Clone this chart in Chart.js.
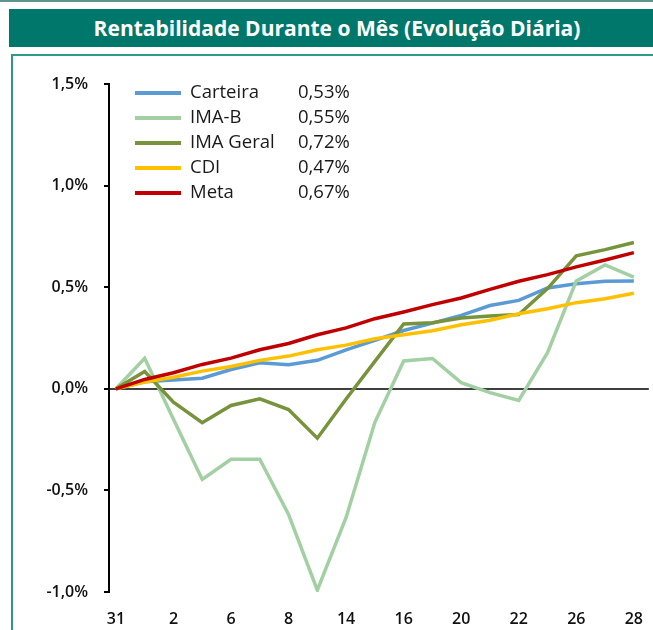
<!DOCTYPE html>
<html>
    <head>
        <meta charset="utf-8">
        <script src="https://cdn.jsdelivr.net/npm/chart.js@4.4.1/dist/chart.umd.min.js"></script>
        <style>
            body { margin: 0; background: #fff; font-family: 'Open Sans', sans-serif; }
            .topline { position: absolute; left: 0; top: 0; width: 653px; height: 2px; background: #5f938c; }
            .title {
                position: absolute; left: 9px; top: 9px; width: 632px; height: 38px; padding-left: 12px;
                background: #00776b; color: #fff; font-weight: 700; font-size: 21px;
                line-height: 38px; text-align: center;
            }
            .box {
                position: absolute; left: 11px; top: 54px; width: 642px; height: 576px;
                border-left: 2px solid #2c9a8b; border-top: 2px solid #2c9a8b;
            }
            .chart-container { position: absolute; left: 0; top: 0; width: 640px; height: 574px; }
        </style>
    </head>
    <body>
        <div class="topline"></div>
        <div class="title">Rentabilidade Durante o Mês (Evolução Diária)</div>
        <div class="box">
            <div class="chart-container">
                <canvas id="myChart"></canvas>
            </div>
        </div>

        <script>
            // dias úteis do mês (rótulos do eixo X)
            const days = ['31', '1', '2', '5', '6', '7', '8', '9', '14', '15', '16', '19', '20', '21', '22', '23', '26', '27', '28'];

            // rentabilidade acumulada (%)
            const carteira = [0, 0.035, 0.043, 0.052, 0.095, 0.128, 0.118, 0.14, 0.192, 0.238, 0.287, 0.323, 0.361, 0.41, 0.435, 0.496, 0.517, 0.529, 0.53];
            const imaB = [0, 0.15, -0.15, -0.446, -0.347, -0.347, -0.618, -0.991, -0.633, -0.165, 0.137, 0.149, 0.03, -0.019, -0.057, 0.178, 0.531, 0.61, 0.55];
            const imaGeral = [0, 0.085, -0.066, -0.167, -0.082, -0.049, -0.102, -0.243, -0.05, 0.135, 0.319, 0.325, 0.348, 0.358, 0.366, 0.493, 0.654, 0.685, 0.72];
            const cdi = [0, 0.033, 0.057, 0.087, 0.11, 0.14, 0.161, 0.192, 0.215, 0.246, 0.266, 0.286, 0.315, 0.337, 0.369, 0.394, 0.424, 0.443, 0.47];
            const meta = [0, 0.046, 0.079, 0.12, 0.151, 0.192, 0.223, 0.266, 0.30, 0.345, 0.378, 0.414, 0.447, 0.489, 0.529, 0.562, 0.60, 0.634, 0.67];

            const seriesNames = ['Carteira', 'IMA-B', 'IMA Geral', 'CDI', 'Meta'];
            const seriesData = [carteira, imaB, imaGeral, cdi, meta];
            const seriesColors = ['#5b9bd5', '#a3d0a3', '#77933c', '#ffc000', '#c00000'];

            const yTicks = [-1.0, -0.5, 0, 0.5, 1.0, 1.5];

            function fmtPct(v) {
                return v.toFixed(v % 0.5 === 0 ? 1 : 2).replace('.', ',') + '%';
            }

            // legenda com o valor final de cada série
            const legendPlugin = {
                id: 'valueLegend',
                afterDatasetsDraw(chart) {
                    const ctx = chart.ctx;
                    const a = chart.chartArea;
                    ctx.save();
                    ctx.font = '18.5px "Open Sans"';
                    ctx.textBaseline = 'middle';
                    ctx.fillStyle = '#1a1a1a';
                    chart.data.datasets.forEach((ds, i) => {
                        const y = a.top + 9 + i * 25;
                        ctx.strokeStyle = ds.borderColor;
                        ctx.lineWidth = 4;
                        ctx.beginPath();
                        ctx.moveTo(a.left + 26, y);
                        ctx.lineTo(a.left + 72, y);
                        ctx.stroke();
                        ctx.fillText(ds.label, a.left + 81, y);
                        const last = ds.data[ds.data.length - 1].y;
                        ctx.fillText(last.toFixed(2).replace('.', ',') + '%', a.left + 189, y);
                    });
                    ctx.restore();
                }
            };

            const datasets = seriesNames.map((name, i) => ({
                label: name,
                data: seriesData[i].map((v, j) => ({ x: j, y: v })),
                borderColor: seriesColors[i],
                backgroundColor: seriesColors[i],
                borderWidth: 3.5,
                pointRadius: 0,
                tension: 0,
                order: seriesNames.length - i,
            }));

            const CONFIG = {
                type: 'line',
                data: { datasets },
                plugins: [legendPlugin],
                options: {
                    responsive: true,
                    maintainAspectRatio: false,
                    animation: false,
                    layout: { padding: { top: 28, left: 0, right: 0, bottom: 0 } },
                    plugins: {
                        legend: { display: false },
                        tooltip: { enabled: false },
                    },
                    scales: {
                        x: {
                            type: 'linear',
                            min: -0.24,
                            max: 18.52,
                            grid: { display: false },
                            border: { display: false },
                            ticks: {
                                stepSize: 2,
                                includeBounds: false,
                                autoSkip: false,
                                maxRotation: 0,
                                padding: 10,
                                color: '#111',
                                font: { family: 'Open Sans', size: 16, weight: '600' },
                                callback: (v) => (Number.isInteger(v) && days[v] !== undefined ? days[v] : ''),
                            },
                            afterFit: (scale) => { scale.height = 38; },
                        },
                        y: {
                            min: yTicks[0],
                            max: yTicks[yTicks.length - 1],
                            afterBuildTicks: (scale) => { scale.ticks = yTicks.map((v) => ({ value: v })); },
                            grid: {
                                color: (c) => (c.tick && c.tick.value === 0 ? '#404040' : 'rgba(0,0,0,0)'),
                                tickColor: '#000',
                                tickLength: 5,
                                lineWidth: 2,
                            },
                            border: { display: true, color: '#000', width: 2 },
                            ticks: {
                                padding: 16,
                                color: '#111',
                                font: { family: 'Open Sans', size: 16, weight: '600' },
                                callback: (v) => fmtPct(v),
                            },
                            afterFit: (scale) => { scale.width = 96; },
                        },
                    },
                },
            };

            const CTX = document.getElementById('myChart').getContext('2d');
            let chart = new Chart(CTX, CONFIG);
        </script>
    </body>
</html>
